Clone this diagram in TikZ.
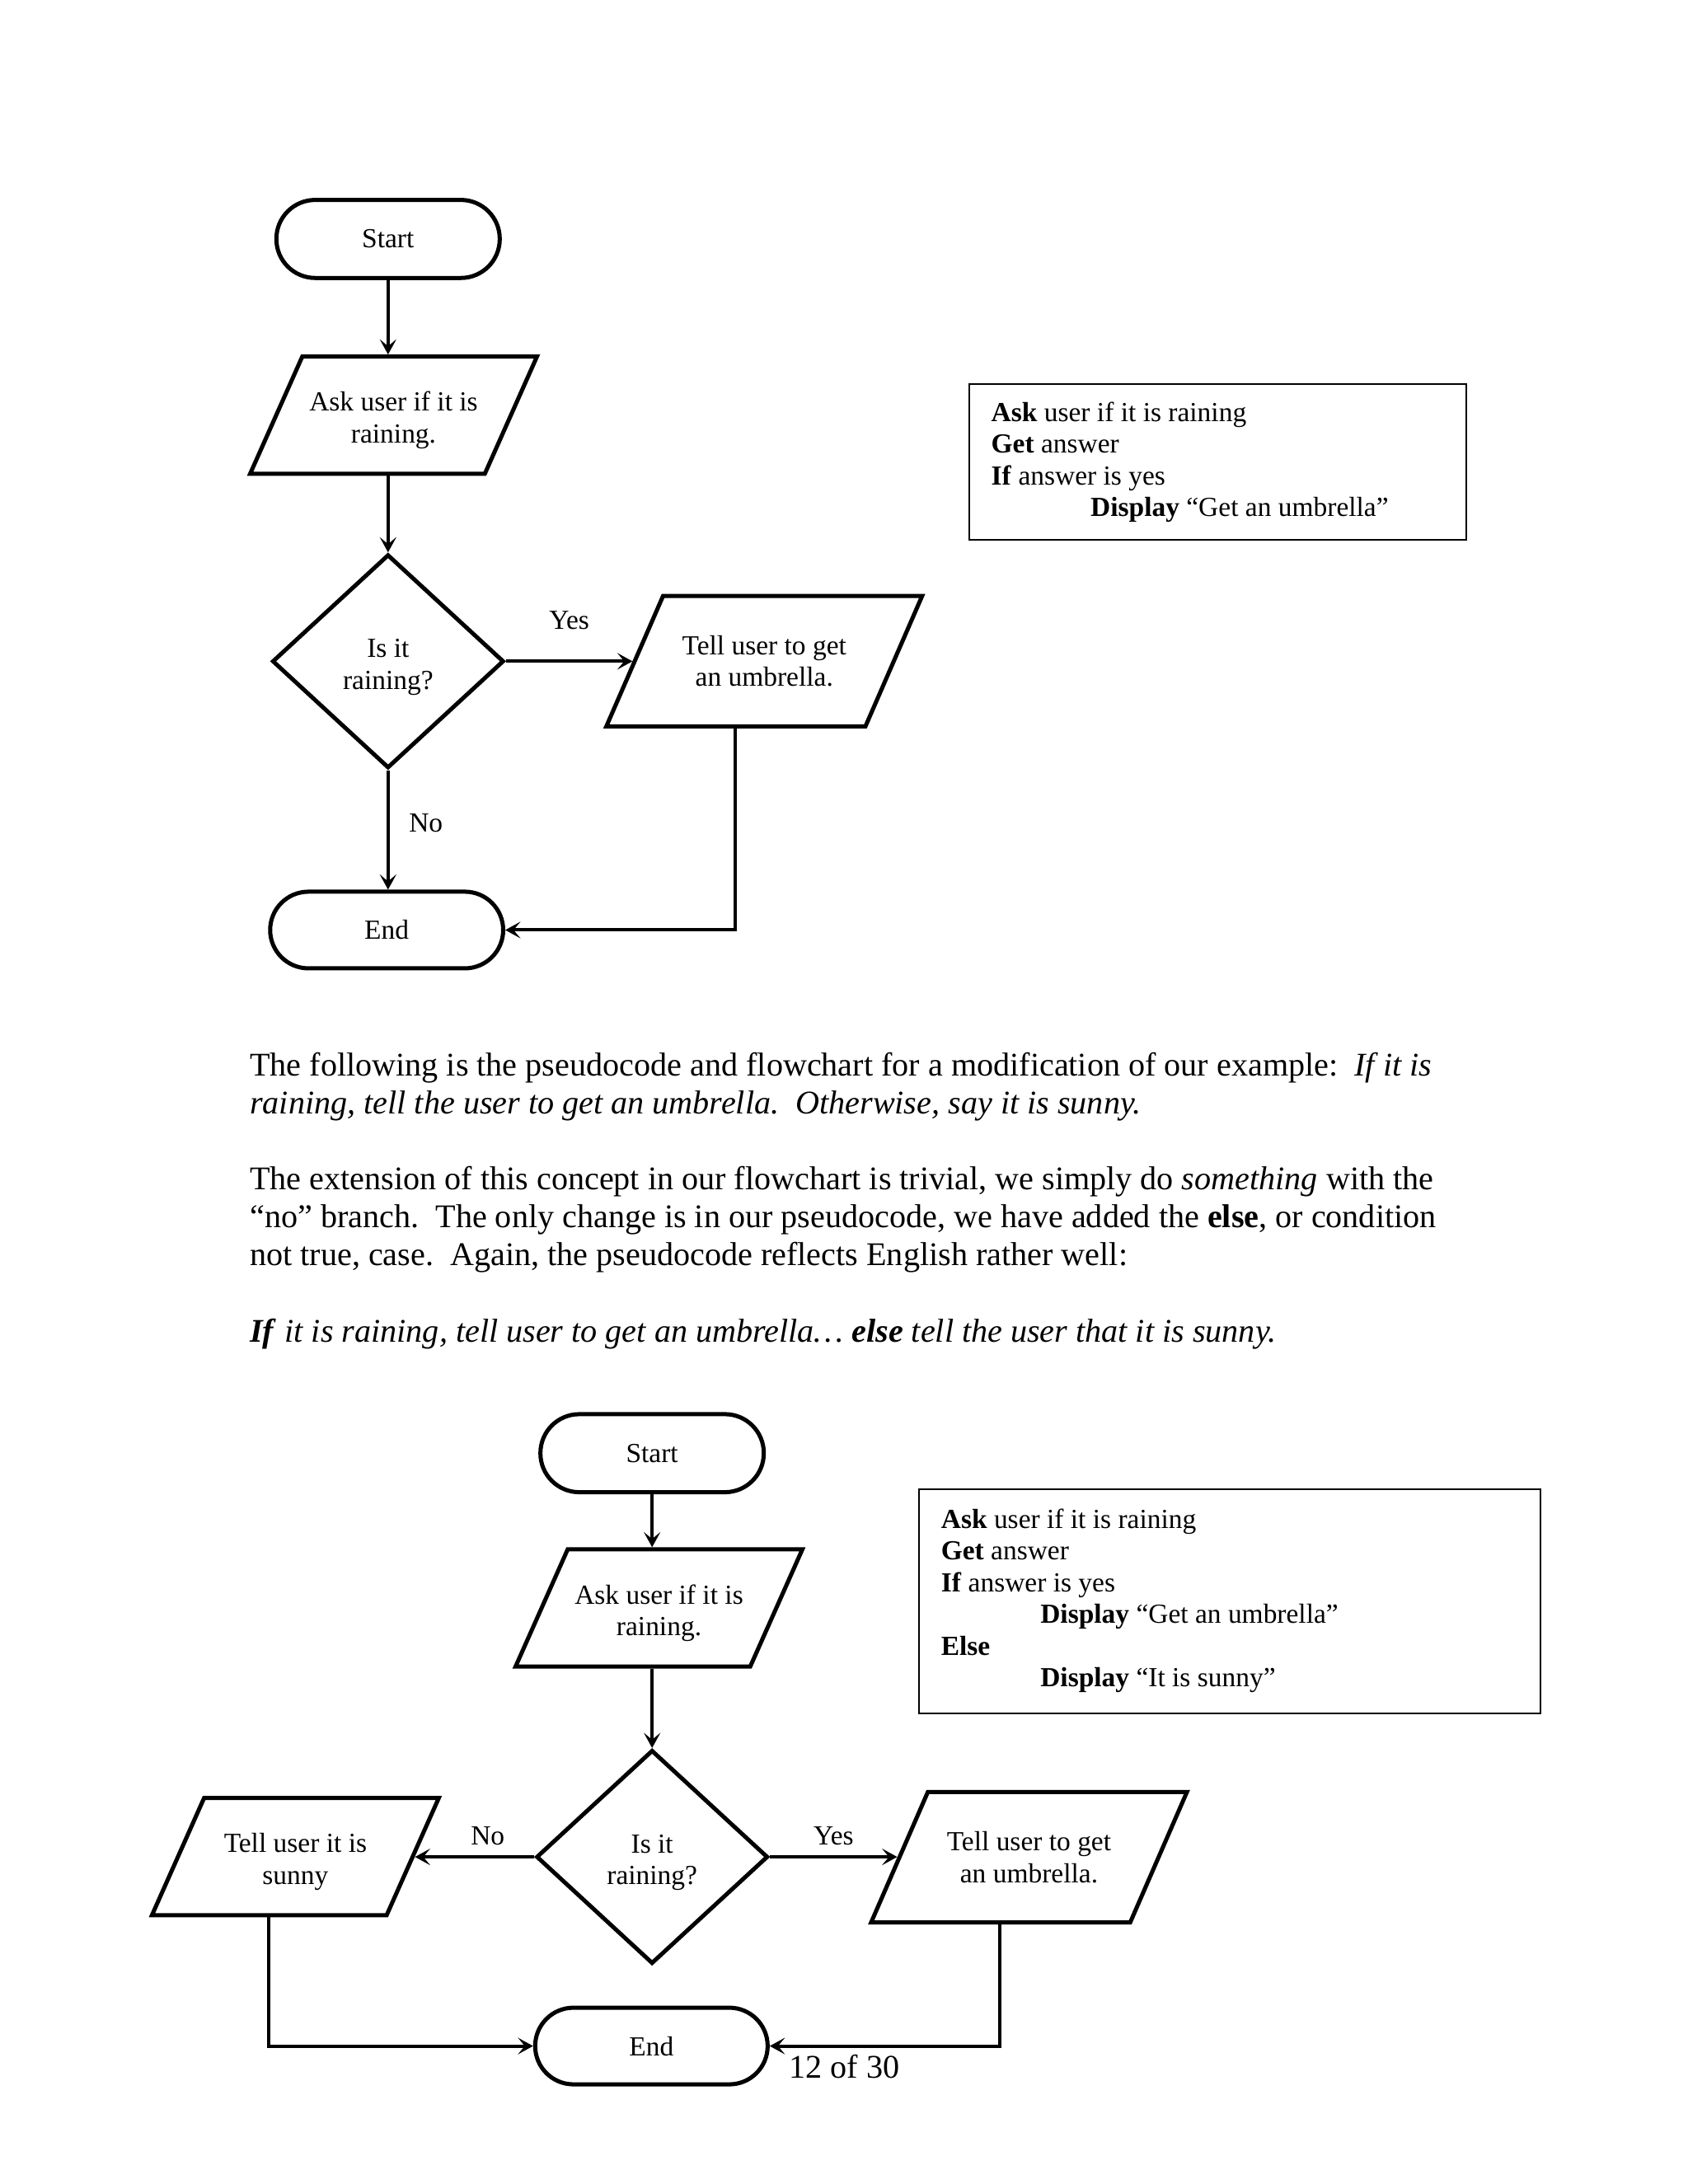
\documentclass[tikz,border=0pt]{standalone}
\usepackage{fontspec}
\setmainfont{Liberation Serif}
\usetikzlibrary{positioning,shapes.geometric,arrows.meta,calc}
\frenchspacing
\newcommand{\natspaces}{\spaceskip=0pt\xspaceskip=0pt\relax}
\newcommand{\lowstrut}{\rule{0pt}{10.8pt}}

\begin{document}
\begin{tikzpicture}[
    x=0.50525pt, y=-0.50525pt,
    every node/.style={font=\fontsize{10}{11.5}\selectfont},
    terminal/.style={draw, line width=1.5pt, rectangle, rounded corners=14.1pt, minimum width=81pt, minimum height=28.3pt, inner sep=0pt},
    io/.style={draw, line width=1.5pt, trapezium, trapezium left angle=66, trapezium right angle=114, trapezium stretches body=true, minimum width=104pt, minimum height=42.5pt, inner xsep=0pt, inner ysep=9pt, align=center},
    wideio/.style={io, trapezium left angle=66.5, trapezium right angle=113.5, minimum width=114.5pt, minimum height=47pt, inner ysep=14.35pt},
    decision/.style={draw, line width=1.5pt, diamond, minimum width=84pt, minimum height=77.5pt, inner sep=0pt, align=center},
    pseudo/.style={draw, line width=0.6pt, anchor=north west, align=left, inner xsep=8pt, inner ysep=0pt},
    conn/.style={line width=1.2pt, -{Stealth[length=5.5pt,width=6pt,inset=2.5pt]}},
    lbl/.style={inner sep=0pt}
]
\fill[white] (0pt,0pt) rectangle (612pt,-792pt);

% first flowchart
\node[terminal] (start1) at (278.5,171.5) {Start};
\node[io, below=27pt of start1, xshift=2pt] (ask1) {\lowstrut Ask user if it is\\raining.};
\node[decision, below=27.75pt of ask1, xshift=-2pt] (dec1) {\lowstrut Is it\\raining?};
\node[wideio] (tell1) at (548.5,474.5) {Tell user to get\\an umbrella.};
\node[terminal, minimum width=84.5pt, minimum height=27.8pt, rounded corners=13.9pt] (end1) at (277.5,667.5) {End};

% pseudocode 1
\node[pseudo, text width=164.3pt, minimum height=56.6pt] (code1) at (695,275) {\natspaces\textbf{Ask} user if it is raining\\
\textbf{Get} answer\\
\textbf{If} answer is yes\\
\hspace*{36pt}\textbf{Display} “Get an umbrella”};

% connectors 1
\coordinate (tell1w) at ($(tell1.top left corner)!.5!(tell1.bottom left corner)$);
\draw[conn] (start1.south) -- (start1.south |- ask1.north);
\draw[conn] (dec1.north |- ask1.south) -- (dec1.north);
\draw[conn] (dec1.east) -- (dec1.east -| tell1w) node[lbl, midway, above=10.8pt] {Yes};
\draw[conn] (dec1.south) -- (dec1.south |- end1.north) node[lbl, pos=0.44, right=7pt] {No};
\draw[conn] ($(tell1.bottom left corner)!.5!(tell1.bottom right corner)$) |- (end1.east);

% text
\node[anchor=base west, text width=460pt, align=left, inner sep=0pt, font=\fontsize{12}{13.8}\selectfont] (para) at (179,772) {\natspaces The following is the pseudocode and flowchart for a modification of our example:\ \ \textit{If it is}\\
\textit{raining, tell the user to get an umbrella.\ \ Otherwise, say it is sunny.}\\[13.8pt]
The extension of this concept in our flowchart is trivial, we simply do \textit{something} with the\\
“no” branch.\ \ The only change is in our pseudocode, we have added the \textbf{else}, or condition\\
not true, case.\ \ Again, the pseudocode reflects English rather well:\\[13.8pt]
\textbf{\textit{If}} \textit{it is raining, tell user to get an umbrella…} \textbf{\textit{else}} \textit{tell the user that it is sunny.}};

% second flowchart
\node[terminal] (start2) at (468,1043) {Start};
\node[io, below=19.2pt of start2, xshift=2.5pt] (ask2) {\lowstrut Ask user if it is\\raining.};
\node[decision, below=28.8pt of ask2, xshift=-2.5pt] (dec2) {\lowstrut Is it\\raining?};
\node[wideio] (tell2) at (738.5,1333) {Tell user to get\\an umbrella.};
\node[io] (sunny) at (212,1332.5) {\lowstrut Tell user it is\\sunny};
\node[terminal, minimum width=84.3pt, minimum height=27.8pt, rounded corners=13.9pt] (end2) at (467.5,1468.5) {End};
\node[lbl, font=\fontsize{12}{13.8}\selectfont] (pageno) at (606,1483) {12 of 30};

% pseudocode 2
\node[pseudo, text width=209.2pt, minimum height=81.3pt] (code2) at (659,1068) {\natspaces\textbf{Ask} user if it is raining\\
\textbf{Get} answer\\
\textbf{If} answer is yes\\
\hspace*{36pt}\textbf{Display} “Get an umbrella”\\
\textbf{Else}\\
\hspace*{36pt}\textbf{Display} “It is sunny”};

% connectors 2
\coordinate (tell2w) at ($(tell2.top left corner)!.5!(tell2.bottom left corner)$);
\coordinate (sunnye) at ($(sunny.top right corner)!.5!(sunny.bottom right corner)$);
\draw[conn] (start2.south) -- (start2.south |- ask2.north);
\draw[conn] (dec2.north |- ask2.south) -- (dec2.north);
\draw[conn] (dec2.east) -- (dec2.east -| tell2w) node[lbl, midway, above=3.8pt] {Yes};
\draw[conn] (dec2.west) -- (dec2.west -| sunnye) node[lbl, pos=0.39, above=3.8pt] {No};
\draw[conn] ($(sunny.bottom left corner)!.5!(sunny.bottom right corner)$) |- (end2.west);
\draw[conn] ($(tell2.bottom left corner)!.5!(tell2.bottom right corner)$) |- (end2.east);

\end{tikzpicture}
\end{document}
